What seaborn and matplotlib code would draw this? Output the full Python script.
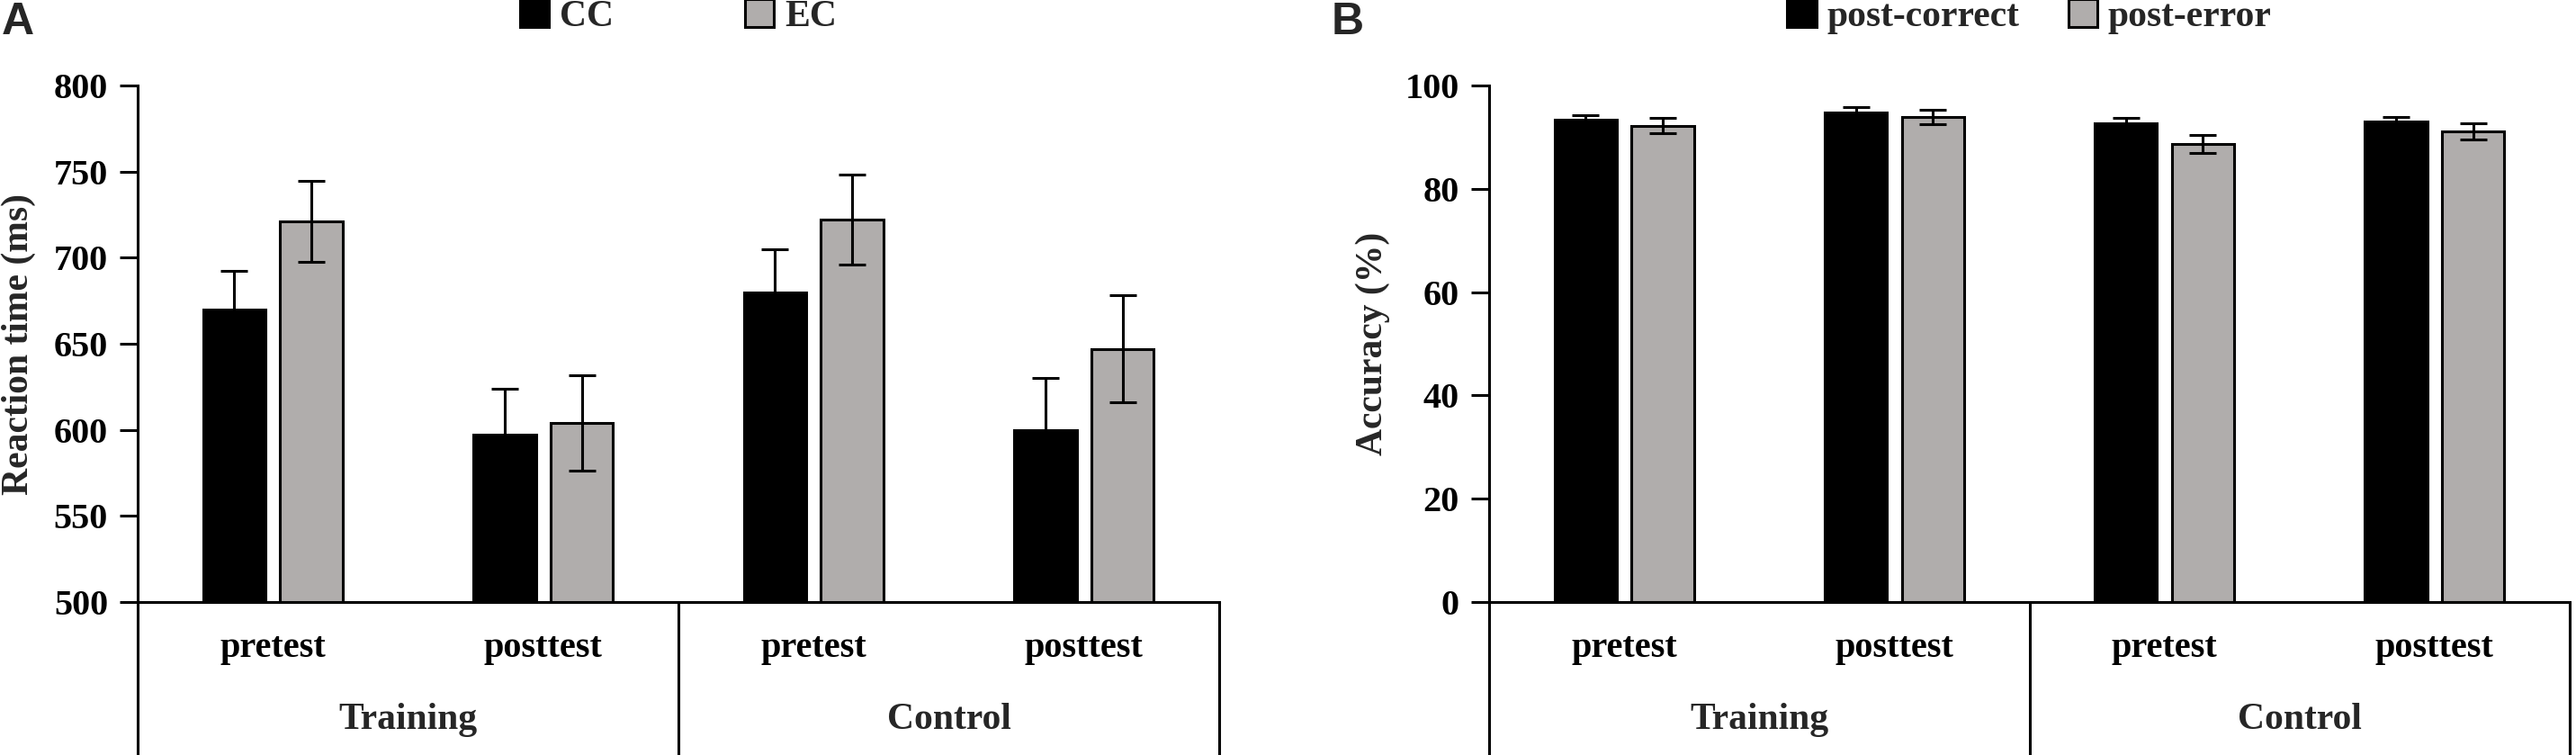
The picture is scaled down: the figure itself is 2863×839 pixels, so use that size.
import matplotlib

matplotlib.use("Agg")

import matplotlib.pyplot as plt
import matplotlib.transforms as mtransforms
from matplotlib.patches import Patch
import numpy as np
import pandas as pd
import seaborn as sns


# ===========================
# DATA
# ===========================

GROUPS = ["Training", "Training", "Control", "Control"]
TESTS = ["pretest", "posttest", "pretest", "posttest"]

RT_LEVELS = ["CC", "EC"]
RT_CC = [670, 597, 680, 600]
RT_CC_SE = [22.5, 27, 25, 30]
RT_EC = [721, 604, 722, 647]
RT_EC_SE = [23.5, 27.5, 26, 31]
RT_TICKS = [500, 550, 600, 650, 700, 750, 800]

ACC_LEVELS = ["post-correct", "post-error"]
ACC_PC = [93.3, 94.7, 92.6, 93.0]
ACC_PC_SE = [0.9, 1.2, 1.2, 0.85]
ACC_PE = [92.2, 93.9, 88.7, 91.1]
ACC_PE_SE = [1.5, 1.4, 1.7, 1.6]
ACC_TICKS = [0, 20, 40, 60, 80, 100]


# ===========================
# STYLE
# ===========================

BLACK = "#000000"
GREY = "#b0adac"
LW = 2.2
FS = 29

W, H = 2863, 839


def long_frame(levels, values, errors):
    rows = []
    for level, vals, errs in zip(levels, values, errors):
        for g, t, v, e in zip(GROUPS, TESTS, vals, errs):
            rows.append(
                {"cond": f"{g} {t}", "group": g, "level": level, "value": v, "se": e}
            )
    return pd.DataFrame(rows)


def draw_panel(ax, df, levels, ticks, ylabel, col_spacing, label_right_px):
    sns.barplot(
        data=df,
        x="cond",
        y="value",
        hue="level",
        hue_order=levels,
        palette=[BLACK, GREY],
        saturation=1,
        width=0.57,
        gap=0.19,
        errorbar=None,
        edgecolor=BLACK,
        linewidth=LW,
        legend=False,
        ax=ax,
    )

    # error bars on top of each bar (SE values from the figure)
    for container, level in zip(ax.containers, levels):
        sub = df[df["level"] == level]
        xs = [b.get_x() + b.get_width() / 2 for b in container]
        ax.errorbar(
            xs,
            sub["value"].to_numpy(),
            yerr=sub["se"].to_numpy(),
            fmt="none",
            ecolor=BLACK,
            elinewidth=LW,
            capsize=11,
            capthick=LW,
            zorder=4,
        )

    ax.set_xlim(-0.5, len(TESTS) - 0.5)
    ax.set_ylim(ticks[0], ticks[-1])
    ax.set_yticks(ticks)
    ax.set_xticks(range(len(TESTS)))
    ax.set_xticklabels(TESTS)
    ax.set_xlabel("")
    ax.set_ylabel(ylabel, fontsize=30, fontweight="bold")
    ax_left_px = ax.get_position().x0 * W
    ax_w_px = ax.get_position().width * W
    ax.yaxis.set_label_coords((label_right_px - ax_left_px) / ax_w_px, 0.5)

    sns.despine(ax=ax)
    for side in ["left", "bottom"]:
        ax.spines[side].set_linewidth(LW)
    ax.tick_params(axis="y", direction="out", length=14.4, width=LW, pad=9.4, labelsize=FS)
    ax.tick_params(axis="x", length=0, pad=24, labelsize=FS)

    # table-like lines below the axis
    for x in [0.0, 0.5, 1.0]:
        ax.plot(
            [x, x], [0, -0.4], transform=ax.transAxes, color=BLACK, lw=LW,
            clip_on=False, solid_capstyle="butt",
        )

    trans = mtransforms.blended_transform_factory(ax.transData, ax.transAxes)
    positions = np.arange(len(GROUPS))
    for g in dict.fromkeys(GROUPS):
        xc = positions[np.array(GROUPS) == g].mean()
        ax.text(xc, -0.228, g, transform=trans, ha="center", va="center",
                fontsize=30, fontweight="bold")

    handles = [
        Patch(facecolor=BLACK, edgecolor=BLACK, linewidth=LW),
        Patch(facecolor=GREY, edgecolor=BLACK, linewidth=LW),
    ]
    ax.legend(
        handles,
        levels,
        loc="center",
        bbox_to_anchor=(0.5, 1.134),
        ncol=2,
        frameon=False,
        fontsize=30,
        handlelength=0.78,
        handleheight=0.78,
        handletextpad=0.28,
        columnspacing=col_spacing,
        borderpad=0,
        borderaxespad=0,
    )


def main():
    sns.set_theme(style="ticks")
    plt.rcParams["font.family"] = ["Liberation Serif", "DejaVu Serif"]
    plt.rcParams["font.weight"] = "bold"
    plt.rcParams["axes.edgecolor"] = BLACK
    plt.rcParams["xtick.color"] = BLACK
    plt.rcParams["ytick.color"] = BLACK

    fig = plt.figure(figsize=(W / 100, H / 100), dpi=100)
    bottom = (H - 669) / H
    height = (669 - 95) / H
    ax_a = fig.add_axes([153 / W, bottom, 1202 / W, height])
    ax_b = fig.add_axes([1655 / W, bottom, 1201 / W, height])

    rt_df = long_frame(RT_LEVELS, [RT_CC, RT_EC], [RT_CC_SE, RT_EC_SE])
    acc_df = long_frame(ACC_LEVELS, [ACC_PC, ACC_PE], [ACC_PC_SE, ACC_PE_SE])

    draw_panel(ax_a, rt_df, RT_LEVELS, RT_TICKS, "Reaction time (ms)", 3.5, 40)
    draw_panel(ax_b, acc_df, ACC_LEVELS, ACC_TICKS, "Accuracy (%)", 1.3, 1545)

    for x, letter in [(2, "A"), (1480, "B")]:
        fig.text(x / W, 1 - 2 / H, letter, ha="left", va="top", fontsize=36,
                 fontweight="bold", family=["Liberation Sans", "DejaVu Sans"])

    fig.savefig("out.png", dpi=100)


if __name__ == "__main__":
    main()
